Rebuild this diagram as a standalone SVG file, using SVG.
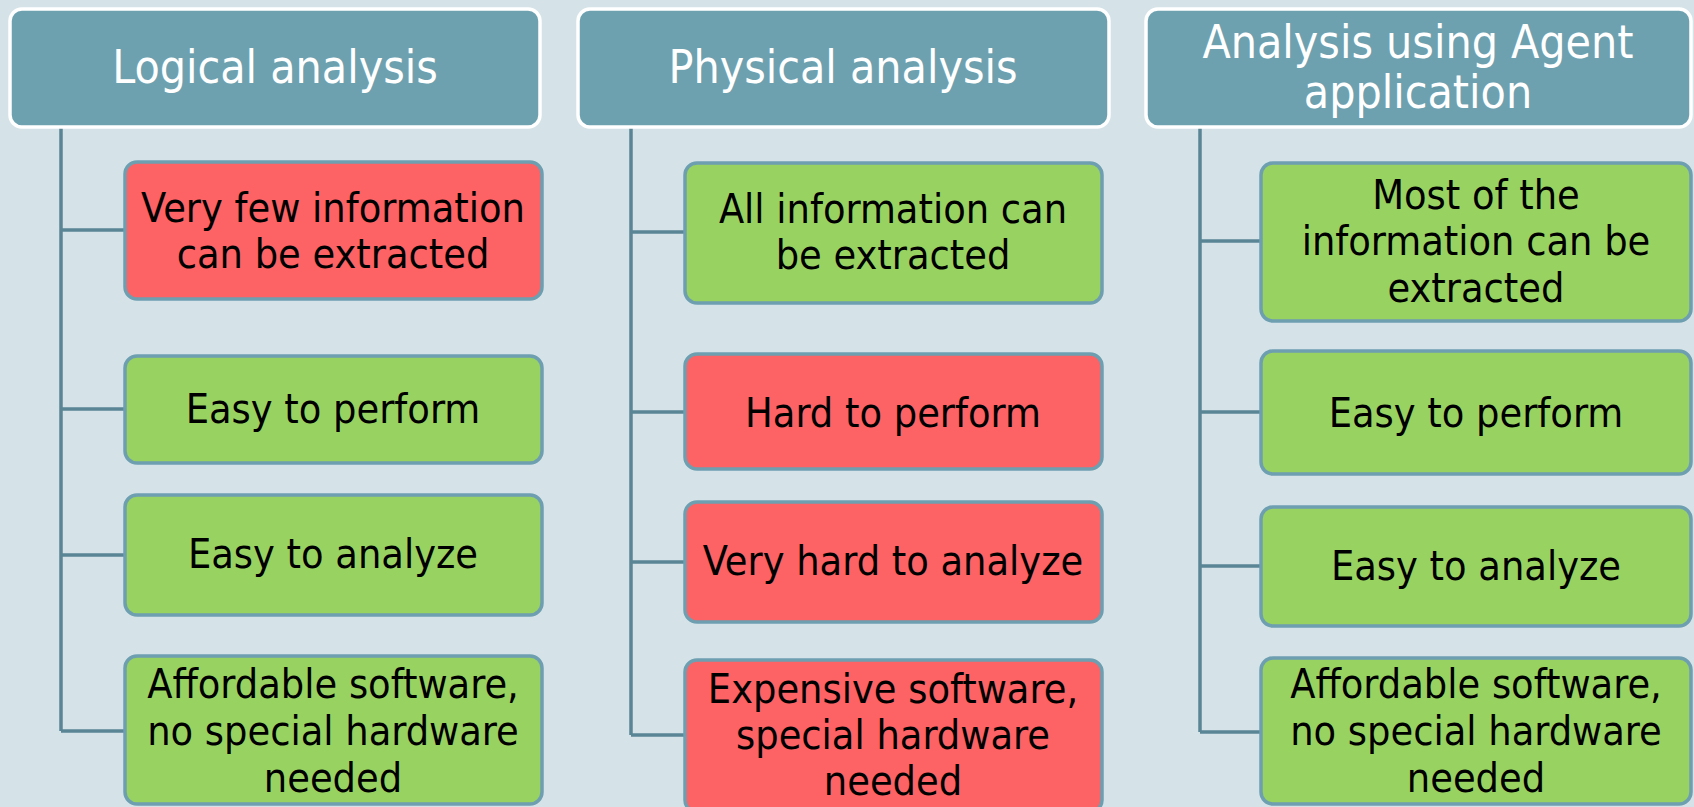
<svg xmlns="http://www.w3.org/2000/svg" width="1694" height="807" viewBox="0 0 1694 807">
<style>
.hdr{fill:#6ea1b0;stroke:#ffffff;stroke-width:3.5}
.g{fill:#98d362;stroke:#6e9fb1;stroke-width:3.5}
.r{fill:#fd6265;stroke:#6e9fb1;stroke-width:3.5}
.ht{font-family:"DejaVu Sans Condensed","DejaVu Sans",sans-serif;font-size:46px;fill:#ffffff;text-anchor:middle}
.t{font-family:"DejaVu Sans Condensed","DejaVu Sans",sans-serif;font-size:41px;fill:#000000;text-anchor:middle}
.c{fill:none;stroke:#5a8595;stroke-width:3.5}
</style>
<rect x="0" y="0" width="1694" height="807" fill="#d5e3e8"/>
<g id="connectors">
<path class="c" d="M61 128V731M61 230H125M61 409H125M61 555H125M61 731H125"/>
<path class="c" d="M631 128V735M631 232H685M631 412H685M631 562H685M631 735H685"/>
<path class="c" d="M1200 128V732M1200 241H1261M1200 412H1261M1200 566H1261M1200 732H1261"/>
</g>
<g id="h1"><rect class="hdr" x="10" y="9" width="530" height="118" rx="12"/><text class="ht" x="275" y="83">Logical analysis</text></g>
<g id="h2"><rect class="hdr" x="578" y="9" width="531" height="118" rx="12"/><text class="ht" x="843" y="83">Physical analysis</text></g>
<g id="h3"><rect class="hdr" x="1146" y="9" width="545" height="118" rx="12"/><text class="ht" x="1418" y="58">Analysis using Agent</text><text class="ht" x="1418" y="108">application</text></g>
<g id="c1n1"><rect class="r" x="125" y="162" width="417" height="137" rx="12"/><text class="t" x="333" y="222">Very few information</text><text class="t" x="333" y="268">can be extracted</text></g>
<g id="c1n2"><rect class="g" x="125" y="356" width="417" height="107" rx="12"/><text class="t" x="333" y="423">Easy to perform</text></g>
<g id="c1n3"><rect class="g" x="125" y="495" width="417" height="120" rx="12"/><text class="t" x="333" y="568">Easy to analyze</text></g>
<g id="c1n4"><rect class="g" x="125" y="656" width="417" height="148" rx="12"/><text class="t" x="333" y="698">Affordable software,</text><text class="t" x="333" y="745">no special hardware</text><text class="t" x="333" y="792">needed</text></g>
<g id="c2n1"><rect class="g" x="685" y="163" width="417" height="140" rx="12"/><text class="t" x="893" y="223">All information can</text><text class="t" x="893" y="269">be extracted</text></g>
<g id="c2n2"><rect class="r" x="685" y="354" width="417" height="115" rx="12"/><text class="t" x="893" y="427">Hard to perform</text></g>
<g id="c2n3"><rect class="r" x="685" y="502" width="417" height="120" rx="12"/><text class="t" x="893" y="575">Very hard to analyze</text></g>
<g id="c2n4"><rect class="r" x="685" y="660" width="417" height="152" rx="12"/><text class="t" x="893" y="703">Expensive software,</text><text class="t" x="893" y="749">special hardware</text><text class="t" x="893" y="795">needed</text></g>
<g id="c3n1"><rect class="g" x="1261" y="163" width="430" height="158" rx="12"/><text class="t" x="1476" y="209">Most of the</text><text class="t" x="1476" y="255">information can be</text><text class="t" x="1476" y="302">extracted</text></g>
<g id="c3n2"><rect class="g" x="1261" y="351" width="430" height="123" rx="12"/><text class="t" x="1476" y="427">Easy to perform</text></g>
<g id="c3n3"><rect class="g" x="1261" y="507" width="430" height="119" rx="12"/><text class="t" x="1476" y="580">Easy to analyze</text></g>
<g id="c3n4"><rect class="g" x="1261" y="658" width="430" height="146" rx="12"/><text class="t" x="1476" y="698">Affordable software,</text><text class="t" x="1476" y="745">no special hardware</text><text class="t" x="1476" y="792">needed</text></g>
</svg>
